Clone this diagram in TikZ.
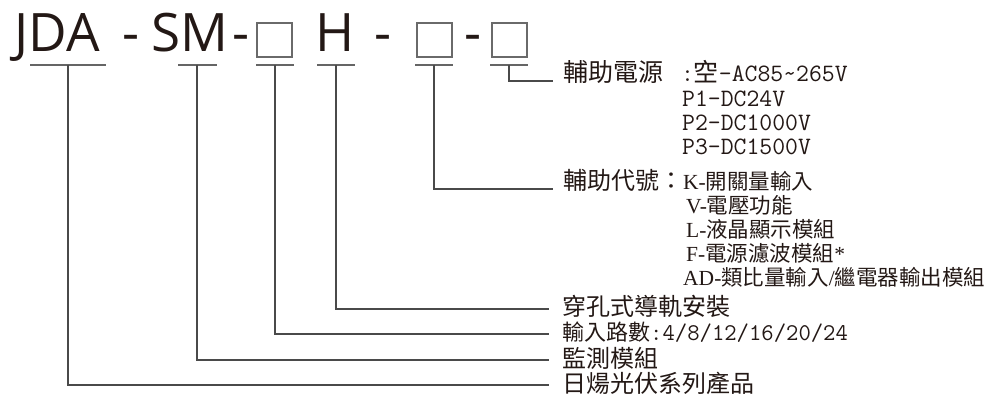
\documentclass[tikz,border=0pt]{standalone}
\usepackage{fontspec}
\setmainfont{Liberation Serif}
\newfontfamily\topfont{Open Sans}
\newfontfamily\cjk{Noto Sans CJK TC}
\definecolor{ink}{HTML}{231815}
\definecolor{ln}{HTML}{4A4A4A}
\definecolor{bx}{HTML}{6A6A6A}
\newcommand{\fs}[1]{\fontsize{#1}{#1}\selectfont}
\tikzset{
  conn/.style={draw=ln, line width=1.2pt},
  uline/.style={draw=ln!85, line width=1.2pt},
  big/.style={anchor=base, inner sep=0pt, text=ink, font=\topfont\fs{53}},
  slot/.style={draw=bx, line width=1.4pt, minimum width=35pt, minimum height=34pt, inner sep=0pt},
  lbl/.style={anchor=base west, inner sep=0pt, text=ink}
}
\begin{document}
\begin{tikzpicture}[x=1pt,y=-1pt]
\useasboundingbox (0,0) rectangle (991,403);
% top code
\node[big] (jda) at (57,52) {JDA};
\node[big] (d1) at (131,52) {-};
\node[big] (sm) at (190,52) {SM};
\node[big] (d2) at (241,52) {-};
\node[slot] (b1) at (274.5,40) {};
\node[big] (h) at (335,52) {H};
\node[big] (d3) at (383,52) {-};
\node[slot] (b2) at (434.5,40) {};
\node[big] (d4) at (473,52) {-};
\node[slot] (b3) at (509.5,40) {};
% underlines
\draw[uline] (30,65) -- (106,65);
\draw[uline] (178,65) -- (217,65);
\draw[uline] (256,65) -- (294,65);
\draw[uline] (317,65) -- (355,65);
\draw[uline] (415,65) -- (453,65);
\draw[uline] (490,65) -- (528,65);
\coordinate (uJ) at (68,65);
\coordinate (uS) at (197,65);
\coordinate (u1) at (275,65);
\coordinate (uH) at (336,65);
\coordinate (u2) at (434,65);
\coordinate (u3) at (509,65);
% line ends
\coordinate (e3) at (553,81);
\coordinate (e2) at (553,189);
\coordinate (eH) at (549,309);
\coordinate (e1) at (549,334);
\coordinate (eS) at (549,360);
\coordinate (eJ) at (549,385);
\draw[conn] (u3) |- (e3);
\draw[conn] (u2) |- (e2);
\draw[conn] (uH) |- (eH);
\draw[conn] (u1) |- (e1);
\draw[conn] (uS) |- (eS);
\draw[conn] (uJ) |- (eJ);
% power block
\node[lbl] (pw) at (563,82) {\cjk\fs{25}輔助電源\ttfamily\ \kern5pt:\cjk 空\ttfamily -AC85\symbol{126}265V};
\node[lbl] (p1) at (682,107) {\ttfamily\fs{25}P1-DC24V};
\node[lbl] (p2) at (682,131) {\ttfamily\fs{25}P2-DC1000V};
\node[lbl] (p3) at (682,155) {\ttfamily\fs{25}P3-DC1500V};
% aux code block
\node[lbl] (ax) at (563,190) {\cjk\fs{24}輔助代號：};
\node[lbl] (k) at (683,190) {\fs{21.5}K-\cjk 開關量輸入};
\node[lbl] (v) at (686,214) {\fs{21.5}V-\cjk 電壓功能};
\node[lbl] (l) at (686,238) {\fs{21.5}L-\cjk 液晶顯示模組};
\node[lbl] (f) at (686,262) {\fs{21.5}F-\cjk 電源濾波模組\rmfamily *};
\node[lbl] (ad) at (683,286) {\fs{21.5}AD-\cjk 類比量輸入\rmfamily /\cjk 繼電器輸出模組};
% lower labels
\node[lbl] (lh) at (562,316) {\cjk\fs{24}穿孔式導軌安裝};
\node[lbl] (l1) at (562,341) {\cjk\fs{22}輸入路數\ttfamily\fs{24}:4/8/12/16/20/24};
\node[lbl] (ls) at (562,367) {\cjk\fs{24}監測模組};
\node[lbl] (lj) at (562,392) {\cjk\fs{24}日煬光伏系列產品};
\end{tikzpicture}
\end{document}
